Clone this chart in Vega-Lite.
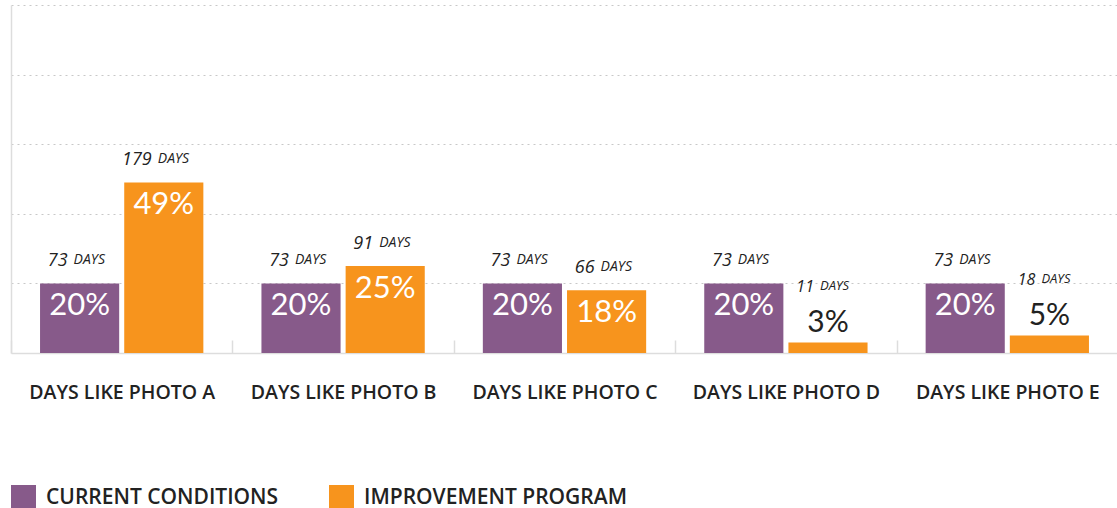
{
  "$schema": "https://vega.github.io/schema/vega-lite/v6.json",
  "width": 1107,
  "height": 348,
  "padding": {"left": 10, "top": 5, "right": 0, "bottom": 0},
  "background": "white",
  "config": {"view": {"stroke": null}},
  "data": {
    "values": [
      {"group": "DAYS LIKE PHOTO A", "series": "CURRENT CONDITIONS", "pct": 20, "pctLabel": "20%", "days": 73},
      {"group": "DAYS LIKE PHOTO A", "series": "IMPROVEMENT PROGRAM", "pct": 49, "pctLabel": "49%", "days": 179},
      {"group": "DAYS LIKE PHOTO B", "series": "CURRENT CONDITIONS", "pct": 20, "pctLabel": "20%", "days": 73},
      {"group": "DAYS LIKE PHOTO B", "series": "IMPROVEMENT PROGRAM", "pct": 25, "pctLabel": "25%", "days": 91},
      {"group": "DAYS LIKE PHOTO C", "series": "CURRENT CONDITIONS", "pct": 20, "pctLabel": "20%", "days": 73},
      {"group": "DAYS LIKE PHOTO C", "series": "IMPROVEMENT PROGRAM", "pct": 18, "pctLabel": "18%", "days": 66},
      {"group": "DAYS LIKE PHOTO D", "series": "CURRENT CONDITIONS", "pct": 20, "pctLabel": "20%", "days": 73},
      {"group": "DAYS LIKE PHOTO D", "series": "IMPROVEMENT PROGRAM", "pct": 3, "pctLabel": "3%", "days": 11},
      {"group": "DAYS LIKE PHOTO E", "series": "CURRENT CONDITIONS", "pct": 20, "pctLabel": "20%", "days": 73},
      {"group": "DAYS LIKE PHOTO E", "series": "IMPROVEMENT PROGRAM", "pct": 5, "pctLabel": "5%", "days": 18}
    ]
  },
  "encoding": {
    "x": {
      "field": "group", "type": "nominal", "sort": null,
      "scale": {"paddingInner": 0, "paddingOuter": 0},
      "axis": {
        "title": null, "labelAngle": 0, "labelLimit": 0,
        "labelFont": "Open Sans", "labelFontSize": 19.5, "labelFontWeight": 600, "labelColor": "#222",
        "labelPadding": 43,
        "domain": true, "domainColor": "#dddddd", "domainWidth": 1.5,
        "ticks": true, "tickBand": "extent", "tickSize": -13, "tickColor": "#dddddd", "tickWidth": 1.5,
        "grid": false
      }
    },
    "xOffset": {
      "field": "series", "type": "nominal",
      "scale": {"paddingInner": 0.06, "paddingOuter": 0.345}
    },
    "y": {
      "field": "pct", "type": "quantitative",
      "scale": {"domain": [0, 100], "nice": false},
      "axis": {
        "title": null, "labels": false, "ticks": false,
        "grid": true, "values": [20, 40, 60, 80, 100], "gridDash": [2, 4], "gridColor": "#c8c8c8",
        "domain": true, "domainColor": "#dddddd", "domainWidth": 1.5
      }
    }
  },
  "layer": [
    {
      "mark": {"type": "bar"},
      "encoding": {
        "color": {
          "field": "series", "type": "nominal",
          "scale": {"domain": ["CURRENT CONDITIONS", "IMPROVEMENT PROGRAM"], "range": ["#875A8A", "#F7941D"]},
          "legend": {
            "orient": "bottom", "direction": "horizontal", "title": null,
            "symbolType": "square", "symbolSize": 625, "symbolStrokeWidth": 0,
            "labelFont": "Open Sans", "labelFontSize": 21, "labelFontWeight": 600, "labelColor": "#222",
            "labelLimit": 0, "columnPadding": 50, "offset": 83, "labelOffset": 10
          }
        }
      }
    },
    {
      "transform": [{"filter": "datum.pct >= 10"}],
      "mark": {"type": "text", "baseline": "middle", "dy": 23, "fill": "white", "font": "Lato", "fontSize": 31},
      "encoding": {"text": {"field": "pctLabel"}}
    },
    {
      "transform": [{"filter": "datum.pct < 10"}],
      "mark": {"type": "text", "baseline": "middle", "dy": -20, "fill": "#222", "font": "Lato", "fontSize": 30},
      "encoding": {"text": {"field": "pctLabel"}}
    },
    {
      "transform": [{"filter": "datum.pct >= 10"}],
      "mark": {"type": "text", "baseline": "middle", "align": "right", "dx": -12, "dy": -22, "fill": "#222", "font": "Open Sans", "fontStyle": "italic", "fontSize": 18},
      "encoding": {"text": {"field": "days"}}
    },
    {
      "transform": [{"filter": "datum.pct >= 10"}],
      "mark": {"type": "text", "text": "DAYS", "baseline": "middle", "align": "left", "dx": -6, "dy": -23, "fill": "#222", "font": "Open Sans", "fontStyle": "italic", "fontSize": 14},
      "encoding": {}
    },
    {
      "transform": [{"filter": "datum.pct < 10"}],
      "mark": {"type": "text", "baseline": "middle", "align": "right", "dx": -14, "dy": -56, "fill": "#222", "font": "Open Sans", "fontStyle": "italic", "fontSize": 16},
      "encoding": {"text": {"field": "days"}}
    },
    {
      "transform": [{"filter": "datum.pct < 10"}],
      "mark": {"type": "text", "text": "DAYS", "baseline": "middle", "align": "left", "dx": -8, "dy": -57, "fill": "#222", "font": "Open Sans", "fontStyle": "italic", "fontSize": 13},
      "encoding": {}
    }
  ]
}
